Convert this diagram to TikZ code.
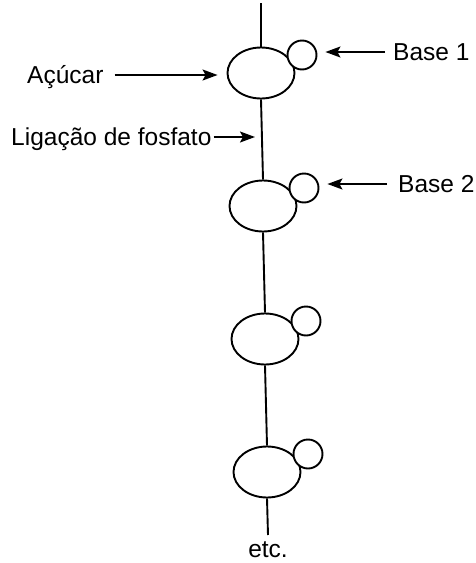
\documentclass[tikz,border=0pt]{standalone}
\usepackage{fontspec}
\setmainfont{Liberation Sans}
\usetikzlibrary{arrows.meta,calc,shapes.geometric}
\begin{document}
\begin{tikzpicture}[x=1pt,y=-1pt,
  sugar/.style={draw,ellipse,line width=1.9pt,minimum width=67pt,minimum height=51pt,inner sep=0pt},
  base/.style={draw,fill=white,circle,line width=1.9pt,minimum size=29pt,inner sep=0pt},
  bond/.style={line width=1.9pt},
  lbl/.style={inner sep=0pt,text height=17.5pt,text depth=0pt,font=\fontsize{24.5}{28}\selectfont},
  pointer/.style={line width=1.6pt,-{Stealth[length=15pt,width=11pt,inset=3pt]}}]
\useasboundingbox (0,0) rectangle (476,563);
% sugar rings and their bases (bases drawn over the rings)
\node[sugar] (s1) at (261,73) {};
\node[sugar] (s2) at (263,206) {};
\node[sugar] (s3) at (265,339) {};
\node[sugar] (s4) at (267,472) {};
\node[base] (c1) at (302,55) {};
\node[base] (c2) at (304,188) {};
\node[base] (c3) at (306,321) {};
\node[base] (c4) at (308,454) {};
% backbone
\coordinate (top) at (261,3);
\coordinate (bottom) at (268,535);
\draw[bond] (top) -- (s1.north);
\draw[bond] (s1.south) -- (s2.north);
\draw[bond] (s2.south) -- (s3.north);
\draw[bond] (s3.south) -- (s4.north);
\draw[bond] (s4.south) -- (bottom);
\coordinate (ph) at ($(s1.south)!0.49!(s2.north)$);
% labels
\node[lbl,anchor=west] (acucar) at (27,75) {Açúcar};
\node[lbl,anchor=west] (lig) at (11,137) {Ligação de fosfato};
\node[lbl,anchor=west] (b1) at (393,52) {Base 1};
\node[lbl,anchor=west] (b2) at (398,184) {Base 2};
\node[lbl,anchor=center] (etc) at (268,549) {etc.};
% pointers
\draw[pointer,shorten <=11pt,shorten >=9pt] (acucar.east) -- (acucar.east -| s1.west);
\draw[pointer,shorten <=2pt,shorten >=7pt] (lig.east) -- (lig.east -| ph);
\draw[pointer,shorten <=8pt,shorten >=8pt] (b1.west) -- (b1.west -| c1.east);
\draw[pointer,shorten <=11pt,shorten >=8pt] (b2.west) -- (b2.west -| c2.east);
\end{tikzpicture}
\end{document}
